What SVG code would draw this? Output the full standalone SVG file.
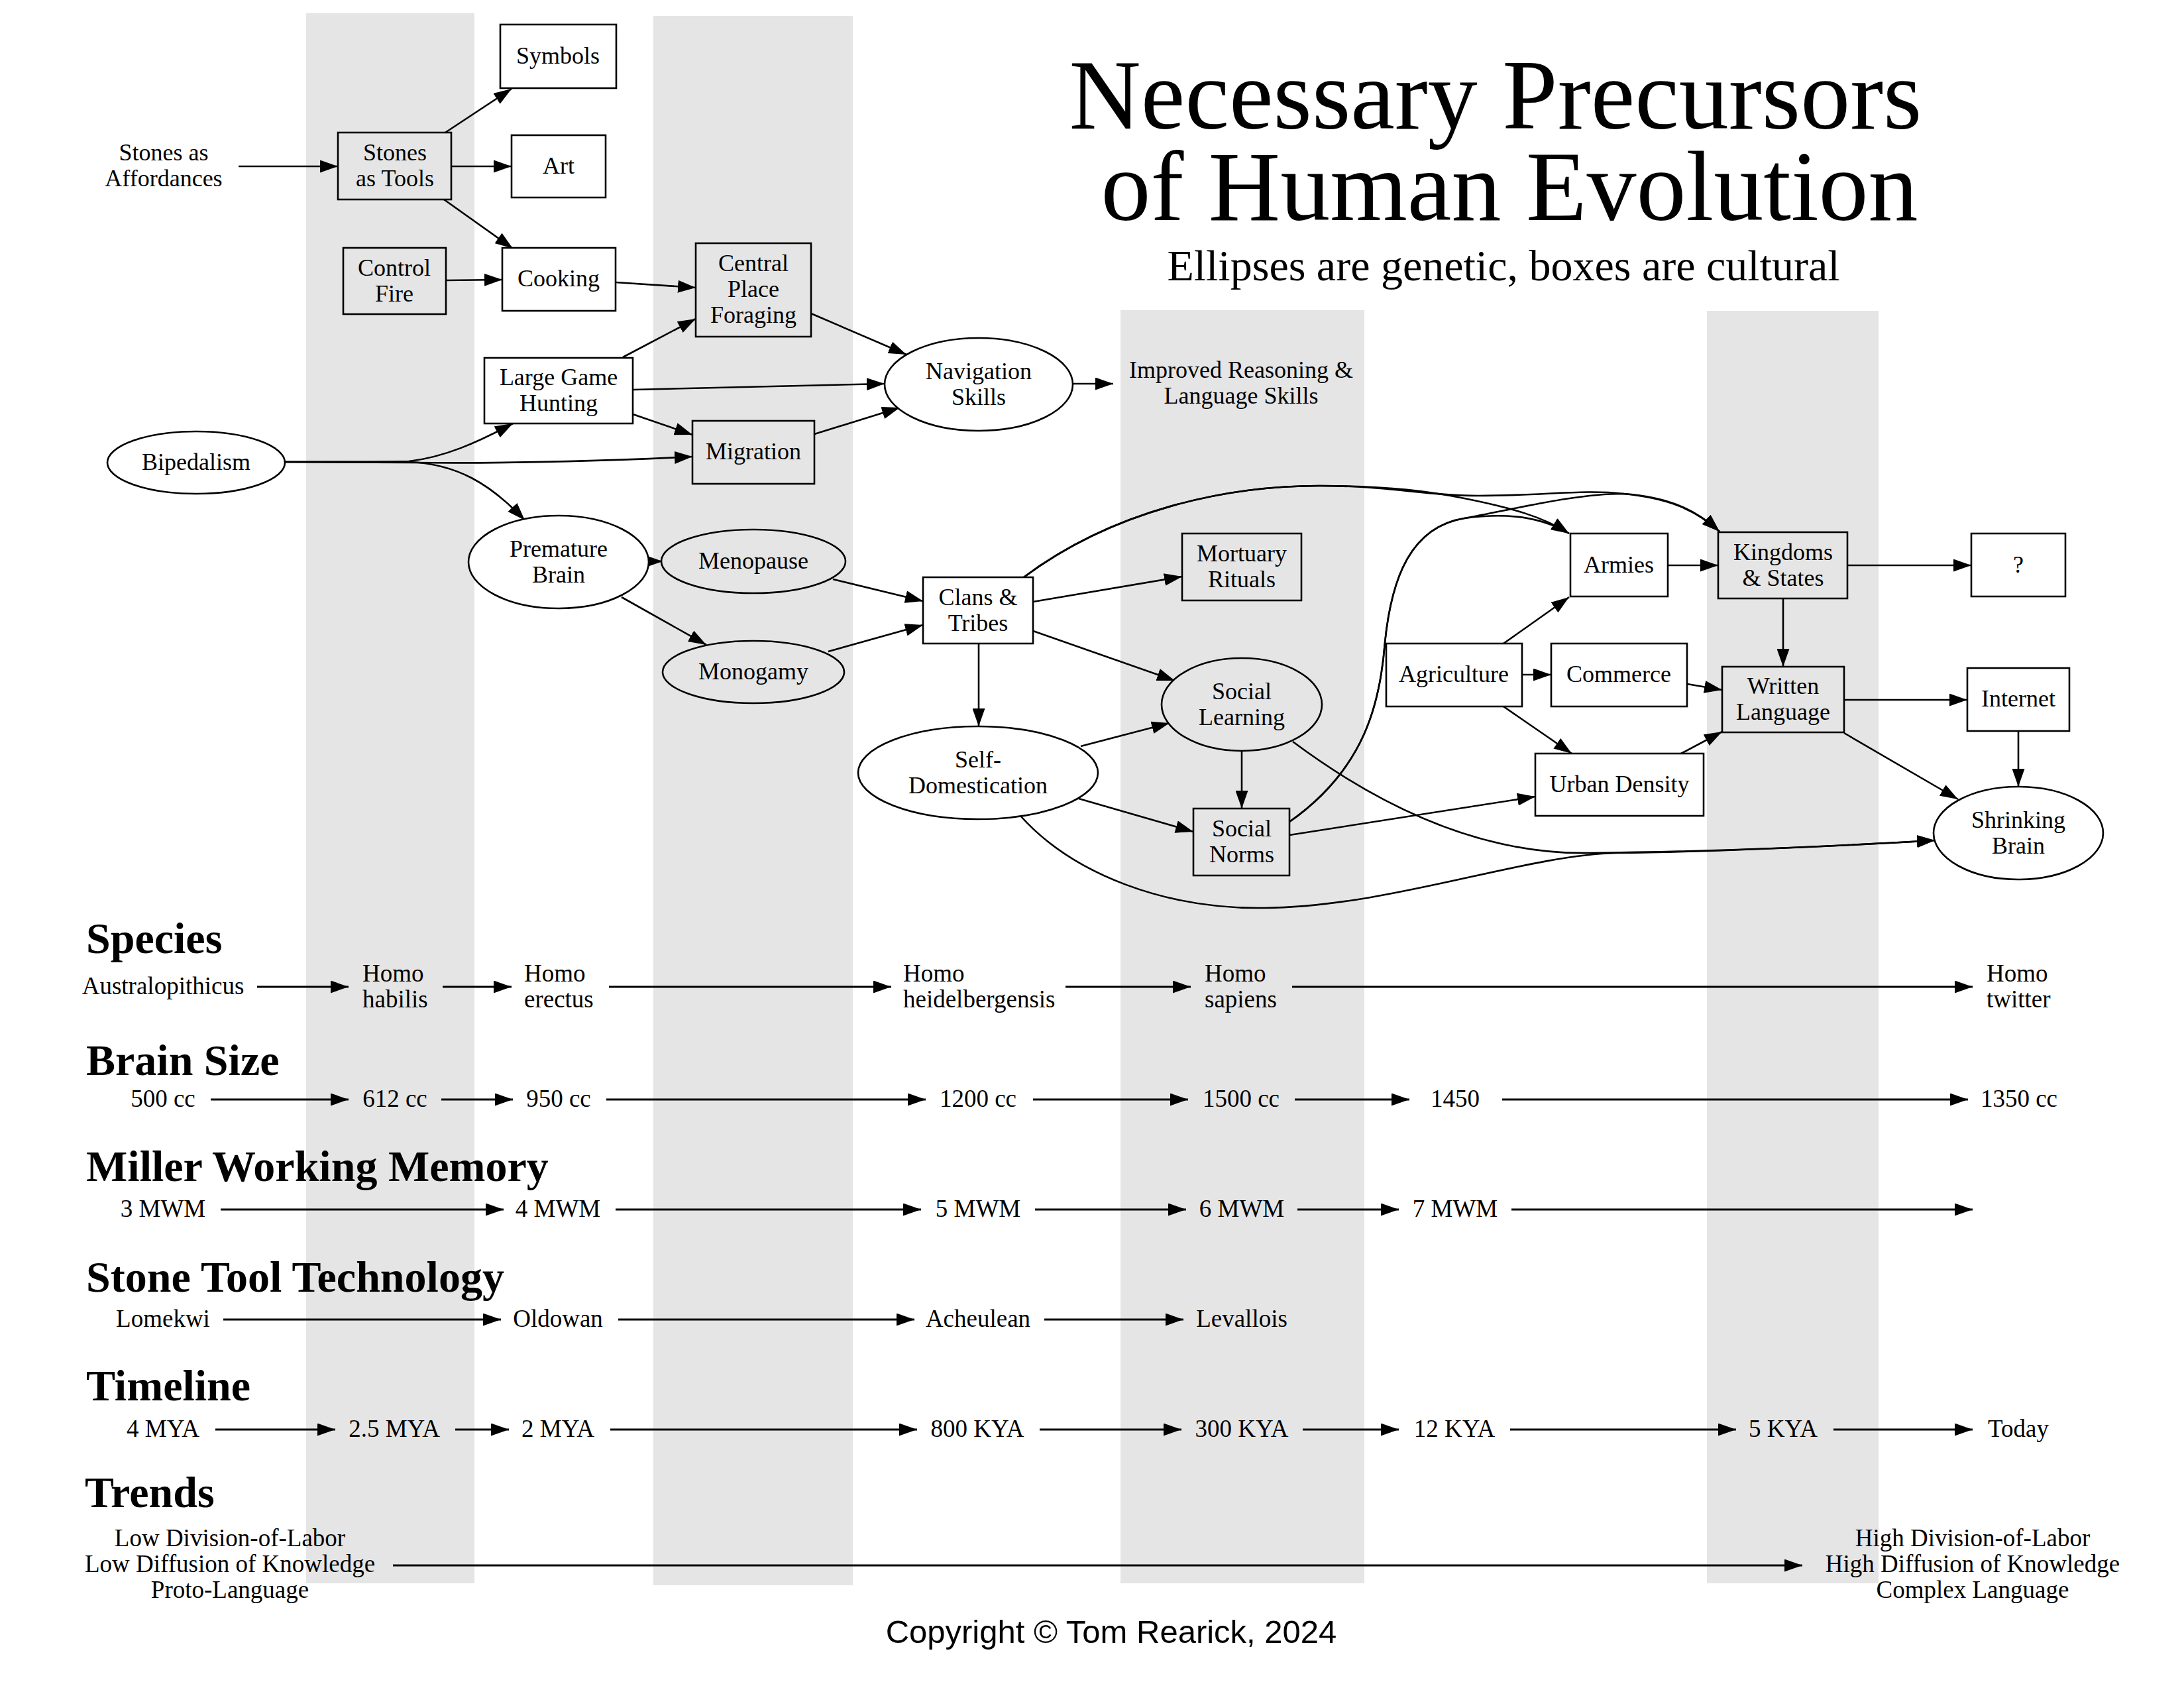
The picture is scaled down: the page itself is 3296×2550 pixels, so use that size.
<svg xmlns="http://www.w3.org/2000/svg" width="3296" height="2550" viewBox="0 0 3296 2550">
<style>
.bg{fill:#fff}
.band{fill:#e5e5e5}
.n{fill:#fff;stroke:#000;stroke-width:2.6}
.g{fill:#e5e5e5;stroke:#000;stroke-width:2.6}
.t{font-family:"Liberation Serif","Times New Roman",serif;font-size:36px;text-anchor:middle;fill:#000}
.rt{font-family:"Liberation Serif","Times New Roman",serif;font-size:37px;text-anchor:middle;fill:#000}
.rl{font-family:"Liberation Serif","Times New Roman",serif;font-size:37px;text-anchor:start;fill:#000}
.h{font-family:"Liberation Serif","Times New Roman",serif;font-size:66px;font-weight:bold;fill:#000}
.title{font-family:"Liberation Serif","Times New Roman",serif;font-size:150px;text-anchor:middle;fill:#000}
.sub{font-family:"Liberation Serif","Times New Roman",serif;font-size:66px;text-anchor:middle;fill:#000}
.copy{font-family:"Liberation Sans",Arial,sans-serif;font-size:49px;text-anchor:middle;fill:#000}
.e{fill:none;stroke:#000;stroke-width:2.6;marker-end:url(#ah)}
.r{fill:none;stroke:#000;stroke-width:3.2;marker-end:url(#ah)}
</style>
<defs>
<marker id="ah" markerUnits="userSpaceOnUse" viewBox="0 0 27 19" markerWidth="27" markerHeight="19" refX="27" refY="9.5" orient="auto">
<path d="M0,0 L27,9.5 L0,19 z" fill="#000"/>
</marker>
</defs>
<rect class="bg" x="0" y="0" width="3296" height="2550"/>
<g id="bands">
<rect class="band" x="462" y="20" width="254" height="2369"/>
<rect class="band" x="986" y="24" width="301" height="2368"/>
<rect class="band" x="1691" y="468" width="368" height="1921"/>
<rect class="band" x="2576" y="469" width="259" height="1920"/>
</g>
<g id="title">
<text class="title" x="2257" y="194">Necessary Precursors</text>
<text class="title" x="2278" y="332">of Human Evolution</text>
<text class="sub" x="2269" y="423">Ellipses are genetic, boxes are cultural</text>
</g>
<g id="connectors">
<path class="e" d="M360,251 L510,251"/>
<path class="e" d="M672,200 L772,134"/>
<path class="e" d="M681,251 L772,251"/>
<path class="e" d="M670,301 L774,375"/>
<path class="e" d="M673,423 L758,422"/>
<path class="e" d="M929,426 L1050,434"/>
<path class="e" d="M940,539 L1050,481"/>
<path class="e" d="M955,588 L1335,579"/>
<path class="e" d="M955,625 L1045,656"/>
<path class="e" d="M429,697 C520,697 580,697 617,696 C670,690 720,668 774,639"/>
<path class="e" d="M429,697 C520,697 580,698 620,698 C780,700 950,694 1045,689"/>
<path class="e" d="M429,697 C520,697 580,697 617,697 C690,700 740,730 792,785"/>
<path class="e" d="M1224,473 L1368,535"/>
<path class="e" d="M1229,655 L1358,615"/>
<path class="e" d="M1619,579 L1680,579"/>
<path class="e" d="M978,847 L1000,847"/>
<path class="e" d="M938,901 L1066,973"/>
<path class="e" d="M1257,874 L1393,907"/>
<path class="e" d="M1250,983 L1393,943"/>
<path class="e" d="M1477,971 L1477,1096"/>
<path class="e" d="M1559,908 L1784,870"/>
<path class="e" d="M1559,952 L1773,1027"/>
<path class="e" d="M1545,871 C1680,770 1850,733 1991,733 C2100,733 2160,742 2210,752 C2280,766 2330,780 2368,805"/>
<path class="e" d="M1545,871 C1680,770 1850,733 1991,733 C2100,733 2150,748 2230,748 C2330,748 2390,738 2450,745 C2520,752 2560,770 2595,802"/>
<path class="e" d="M1946,1240 C2060,1160 2083,1060 2090,970 C2100,870 2130,795 2210,782 C2280,772 2330,782 2368,805"/>
<path class="e" d="M1946,1240 C2060,1160 2083,1060 2090,970 C2100,870 2130,795 2210,782 C2300,765 2380,745 2450,745 C2520,750 2560,770 2595,802"/>
<path class="e" d="M1631,1126 L1765,1091"/>
<path class="e" d="M1628,1205 L1801,1255"/>
<path class="e" d="M1874,1133 L1874,1220"/>
<path class="e" d="M1946,1260 L2317,1202"/>
<path class="e" d="M1951,1119 C2100,1230 2250,1290 2400,1287 C2600,1285 2800,1275 2920,1268"/>
<path class="e" d="M1540,1231 C1620,1320 1760,1372 1908,1370 C2100,1368 2300,1290 2440,1287 C2600,1285 2800,1275 2920,1268"/>
<path class="e" d="M2269,971 L2368,901"/>
<path class="e" d="M2297,1018 L2341,1018"/>
<path class="e" d="M2269,1066 L2372,1137"/>
<path class="e" d="M2517,853 L2593,853"/>
<path class="e" d="M2788,853 L2975,853"/>
<path class="e" d="M2691,903 L2691,1006"/>
<path class="e" d="M2546,1032 L2599,1041"/>
<path class="e" d="M2537,1137 L2599,1104"/>
<path class="e" d="M2783,1056 L2969,1056"/>
<path class="e" d="M2783,1106 L2955,1206"/>
<path class="e" d="M3046,1103 L3046,1187"/>
<!-- species row -->
<path class="r" d="M388,1489 L526,1489"/>
<path class="r" d="M668,1489 L772,1489"/>
<path class="r" d="M919,1489 L1345,1489"/>
<path class="r" d="M1608,1489 L1797,1489"/>
<path class="r" d="M1950,1489 L2977,1489"/>
<!-- brain row -->
<path class="r" d="M318,1659 L526,1659"/>
<path class="r" d="M666,1659 L774,1659"/>
<path class="r" d="M915,1659 L1397,1659"/>
<path class="r" d="M1559,1659 L1793,1659"/>
<path class="r" d="M1954,1659 L2127,1659"/>
<path class="r" d="M2267,1659 L2970,1659"/>
<!-- MWM row -->
<path class="r" d="M333,1825 L760,1825"/>
<path class="r" d="M929,1825 L1390,1825"/>
<path class="r" d="M1562,1825 L1790,1825"/>
<path class="r" d="M1958,1825 L2111,1825"/>
<path class="r" d="M2281,1825 L2977,1825"/>
<!-- stone row -->
<path class="r" d="M337,1991 L756,1991"/>
<path class="r" d="M933,1991 L1380,1991"/>
<path class="r" d="M1576,1991 L1786,1991"/>
<!-- timeline row -->
<path class="r" d="M325,2157 L506,2157"/>
<path class="r" d="M687,2157 L768,2157"/>
<path class="r" d="M921,2157 L1384,2157"/>
<path class="r" d="M1569,2157 L1783,2157"/>
<path class="r" d="M1966,2157 L2111,2157"/>
<path class="r" d="M2279,2157 L2620,2157"/>
<path class="r" d="M2767,2157 L2977,2157"/>
<!-- trends -->
<path class="r" d="M593,2362 L2720,2362"/>
</g>
<g id="stones_aff"><text class="t" x="247" y="241.5">Stones as<tspan x="247" dy="39">Affordances</tspan></text></g>
<g id="stones_tools"><rect class="g" x="510" y="200" width="171" height="101"/><text class="t" x="596" y="241.5">Stones<tspan x="596" dy="39">as Tools</tspan></text></g>
<g id="symbols"><rect class="n" x="755" y="37" width="175" height="96"/><text class="t" x="842" y="96">Symbols</text></g>
<g id="art"><rect class="n" x="772" y="204" width="142" height="94"/><text class="t" x="843" y="262">Art</text></g>
<g id="control_fire"><rect class="g" x="518" y="374" width="155" height="100"/><text class="t" x="595" y="415.5">Control<tspan x="595" dy="39">Fire</tspan></text></g>
<g id="cooking"><rect class="n" x="758" y="374" width="171" height="95"/><text class="t" x="843" y="432">Cooking</text></g>
<g id="central"><rect class="g" x="1050" y="367" width="174" height="141"/><text class="t" x="1137" y="409">Central<tspan x="1137" dy="39">Place</tspan><tspan x="1137" dy="39">Foraging</tspan></text></g>
<g id="large_game"><rect class="n" x="731" y="540" width="224" height="99"/><text class="t" x="843" y="580.5">Large Game<tspan x="843" dy="39">Hunting</tspan></text></g>
<g id="migration"><rect class="g" x="1045" y="635" width="184" height="95"/><text class="t" x="1137" y="693">Migration</text></g>
<g id="navigation"><ellipse class="n" cx="1477" cy="580" rx="142" ry="70"/><text class="t" x="1477" y="571.5">Navigation<tspan x="1477" dy="39">Skills</tspan></text></g>
<g id="improved"><text class="t" x="1873" y="569.5">Improved Reasoning &amp;<tspan x="1873" dy="39">Language Skills</tspan></text></g>
<g id="bipedalism"><ellipse class="n" cx="296" cy="698" rx="134" ry="47"/><text class="t" x="296" y="709">Bipedalism</text></g>
<g id="premature"><ellipse class="n" cx="843" cy="848" rx="136" ry="70"/><text class="t" x="843" y="839.5">Premature<tspan x="843" dy="39">Brain</tspan></text></g>
<g id="menopause"><ellipse class="g" cx="1137" cy="847" rx="139" ry="48"/><text class="t" x="1137" y="858">Menopause</text></g>
<g id="monogamy"><ellipse class="g" cx="1137" cy="1014" rx="137" ry="47"/><text class="t" x="1137" y="1025">Monogamy</text></g>
<g id="clans"><rect class="n" x="1393" y="871" width="166" height="100"/><text class="t" x="1476" y="912.5">Clans &amp;<tspan x="1476" dy="39">Tribes</tspan></text></g>
<g id="mortuary"><rect class="g" x="1784" y="805" width="180" height="101"/><text class="t" x="1874" y="846.5">Mortuary<tspan x="1874" dy="39">Rituals</tspan></text></g>
<g id="social_learning"><ellipse class="g" cx="1874" cy="1063" rx="121" ry="70"/><text class="t" x="1874" y="1054.5">Social<tspan x="1874" dy="39">Learning</tspan></text></g>
<g id="self_domestication"><ellipse class="n" cx="1476" cy="1166" rx="181" ry="70"/><text class="t" x="1476" y="1157.5">Self-<tspan x="1476" dy="39">Domestication</tspan></text></g>
<g id="social_norms"><rect class="g" x="1801" y="1220" width="145" height="101"/><text class="t" x="1874" y="1261.5">Social<tspan x="1874" dy="39">Norms</tspan></text></g>
<g id="agriculture"><rect class="n" x="2092" y="971" width="205" height="95"/><text class="t" x="2194" y="1029">Agriculture</text></g>
<g id="commerce"><rect class="n" x="2341" y="971" width="205" height="95"/><text class="t" x="2443" y="1029">Commerce</text></g>
<g id="armies"><rect class="n" x="2370" y="805" width="147" height="95"/><text class="t" x="2443" y="864">Armies</text></g>
<g id="kingdoms"><rect class="g" x="2593" y="803" width="195" height="100"/><text class="t" x="2691" y="844.5">Kingdoms<tspan x="2691" dy="39">&amp; States</tspan></text></g>
<g id="question"><rect class="n" x="2975" y="805" width="142" height="95"/><text class="t" x="3046" y="864">?</text></g>
<g id="written"><rect class="g" x="2599" y="1006" width="184" height="99"/><text class="t" x="2691" y="1046.5">Written<tspan x="2691" dy="39">Language</tspan></text></g>
<g id="internet"><rect class="n" x="2969" y="1008" width="154" height="95"/><text class="t" x="3046" y="1066">Internet</text></g>
<g id="urban"><rect class="n" x="2317" y="1137" width="254" height="94"/><text class="t" x="2444" y="1195">Urban Density</text></g>
<g id="shrinking"><ellipse class="n" cx="3046" cy="1257" rx="128" ry="70"/><text class="t" x="3046" y="1248.5">Shrinking<tspan x="3046" dy="39">Brain</tspan></text></g>
<g id="headers">
<text class="h" x="130" y="1438">Species</text>
<text class="h" x="130" y="1622">Brain Size</text>
<text class="h" x="130" y="1782">Miller Working Memory</text>
<text class="h" x="130" y="1949">Stone Tool Technology</text>
<text class="h" x="130" y="2113">Timeline</text>
<text class="h" x="128" y="2274">Trends</text>
</g>
<g id="species_row">
<text class="rt" x="246" y="1500">Australopithicus</text>
<text class="rl" x="547" y="1480.5">Homo<tspan x="547" dy="39">habilis</tspan></text>
<text class="rl" x="791" y="1480.5">Homo<tspan x="791" dy="39">erectus</tspan></text>
<text class="rl" x="1363" y="1480.5">Homo<tspan x="1363" dy="39">heidelbergensis</tspan></text>
<text class="rl" x="1818" y="1480.5">Homo<tspan x="1818" dy="39">sapiens</tspan></text>
<text class="rl" x="2998" y="1480.5">Homo<tspan x="2998" dy="39">twitter</tspan></text>
</g>
<g id="brain_row">
<text class="rt" x="246" y="1670">500 cc</text>
<text class="rt" x="596" y="1670">612 cc</text>
<text class="rt" x="843" y="1670">950 cc</text>
<text class="rt" x="1476" y="1670">1200 cc</text>
<text class="rt" x="1873" y="1670">1500 cc</text>
<text class="rt" x="2196" y="1670">1450</text>
<text class="rt" x="3047" y="1670">1350 cc</text>
</g>
<g id="mwm_row">
<text class="rt" x="246" y="1836">3 MWM</text>
<text class="rt" x="842" y="1836">4 MWM</text>
<text class="rt" x="1476" y="1836">5 MWM</text>
<text class="rt" x="1874" y="1836">6 MWM</text>
<text class="rt" x="2196" y="1836">7 MWM</text>
</g>
<g id="stone_row">
<text class="rt" x="246" y="2002">Lomekwi</text>
<text class="rt" x="842" y="2002">Oldowan</text>
<text class="rt" x="1476" y="2002">Acheulean</text>
<text class="rt" x="1874" y="2002">Levallois</text>
</g>
<g id="timeline_row">
<text class="rt" x="246" y="2168">4 MYA</text>
<text class="rt" x="595" y="2168">2.5 MYA</text>
<text class="rt" x="842" y="2168">2 MYA</text>
<text class="rt" x="1475" y="2168">800 KYA</text>
<text class="rt" x="1874" y="2168">300 KYA</text>
<text class="rt" x="2195" y="2168">12 KYA</text>
<text class="rt" x="2691" y="2168">5 KYA</text>
<text class="rt" x="3046" y="2168">Today</text>
</g>
<g id="trends_row">
<text class="rt" x="347" y="2333">Low Division-of-Labor<tspan x="347" dy="39">Low Diffusion of Knowledge</tspan><tspan x="347" dy="39">Proto-Language</tspan></text>
<text class="rt" x="2977" y="2333">High Division-of-Labor<tspan x="2977" dy="39">High Diffusion of Knowledge</tspan><tspan x="2977" dy="39">Complex Language</tspan></text>
</g>
<text class="copy" x="1677" y="2479">Copyright © Tom Rearick, 2024</text>
</svg>
